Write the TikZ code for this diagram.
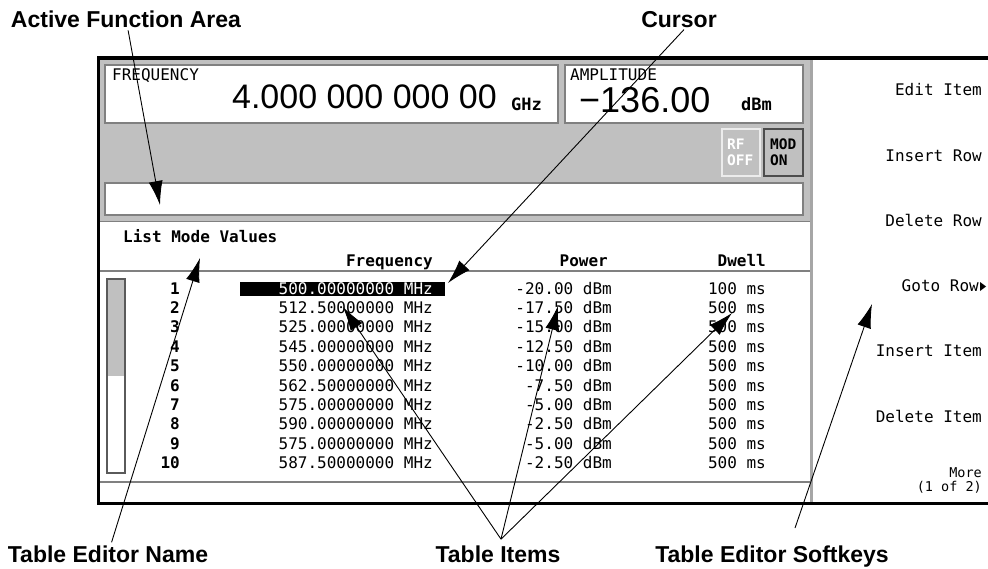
\documentclass[tikz,border=0pt]{standalone}
\usepackage{fontspec}
\setmainfont{Liberation Sans}
\newfontfamily\scrfont{DejaVu Sans Mono}
\usepackage{tikz}
\usetikzlibrary{arrows.meta}

\definecolor{panelgray}{HTML}{C0C0C0}
\definecolor{edgegray}{HTML}{808080}

\begin{document}
\begin{tikzpicture}[x=1pt,y=-1pt,
		callout/.style={font=\bfseries\fontsize{23}{25}\selectfont,inner sep=0pt},
		scr text/.style={font=\scrfont\fontsize{16}{18}\selectfont,inner sep=0pt},
		scr bold/.style={font=\scrfont\bfseries\fontsize{16}{18}\selectfont,inner sep=0pt},
		scr small/.style={font=\scrfont\bfseries\fontsize{14.5}{15}\selectfont,inner sep=0pt,anchor=base west},
		soft key/.style={scr text,anchor=base east},
		box/.style={draw=edgegray,line width=1.5pt,fill=white},
		pointer/.style={-{Latex[length=24pt,width=14pt]},line width=0.9pt,shorten <=3pt}]
	
	\useasboundingbox (0,0) rectangle (988,568);
	
	\fill[panelgray] (100,60) rectangle (810,221);
	\draw[edgegray,line width=1.5pt] (100,221.5) -- (810,221.5);
	\draw[box] (105,65) rectangle (558,123);
	\draw[box] (565,65) rectangle (803,123);
	\draw[box] (105,183) rectangle (803,215);
	\draw[white!85!gray,line width=1.5pt,fill=panelgray] (722,129) rectangle (760,176);
	\draw[edgegray!60!black,line width=1.5pt,fill=panelgray] (764,129) rectangle (803,176);
	
	\draw[gray!70,line width=3pt] (811,60) -- (811,502);
	\draw[edgegray,line width=1.5pt] (100,271) -- (810,271);
	\draw[edgegray,line width=1.5pt] (100,482) -- (810,482);
	\draw[line width=3.5pt] (988,58) -- (98.5,58) -- (98.5,503.5) -- (988,503.5);
	
	\node[scr text,anchor=base west] (freqlbl) at (112,80.5) {FREQUENCY};
	\node[font=\fontsize{34}{36}\selectfont,inner sep=0pt,text height=25pt,anchor=base east] (freqval) at (497,108) {4.000 000 000 00};
	\node[scr bold,font=\scrfont\bfseries\fontsize{17}{18}\selectfont,anchor=base west] (ghz) at (511,110) {GHz};
	\node[scr text,anchor=base west] (amplbl) at (570,80) {AMPLITUDE};
	\node[font=\fontsize{36}{40}\selectfont,inner sep=0pt,text height=25pt,anchor=base west] (ampval) at (579,112) {−136.00};
	\node[scr bold,font=\scrfont\bfseries\fontsize{17}{18}\selectfont,anchor=base west] (dbm) at (741,110) {dBm};
	\node[scr small,text=white] (rflbl) at (727,149) {RF};
	\node[scr small,text=white] (offlbl) at (727,165) {OFF};
	\node[scr small] (modlbl) at (770,149) {MOD};
	\node[scr small] (onlbl) at (770,165) {ON};
	
	\node[scr bold,anchor=base west] (listname) at (123,242) {List Mode Values};
	\node[scr bold,anchor=base east] (hfreq) at (433,266) {Frequency};
	\node[scr bold,anchor=base east] (hpow) at (608,266) {Power};
	\node[scr bold,anchor=base east] (hdwell) at (766,266) {Dwell};
	
	\draw[edgegray!70!black,line width=1.2pt] (107,279) rectangle (125,473);
	\fill[panelgray] (108,280) rectangle (124,376);
	\fill (240,282) rectangle (445,296);
	
	\foreach \n/\f/\p/\d/\c in {1/500.00000000/-20.00/100/white,
		2/512.50000000/-17.50/500/black, 3/525.00000000/-15.00/500/black,
		4/545.00000000/-12.50/500/black, 5/550.00000000/-10.00/500/black,
		6/562.50000000/-7.50/500/black, 7/575.00000000/-5.00/500/black,
		8/590.00000000/-2.50/500/black, 9/575.00000000/-5.00/500/black,
		10/587.50000000/-2.50/500/black}
	{
		\pgfmathsetmacro{\yy}{294+(\n-1)*19.4}
		\node[scr bold,anchor=base east] (num\n) at (180,\yy) {\n};
		\node[scr text,anchor=base east,text=\c] (freq\n) at (433,\yy) {\f\ MHz};
		\node[scr text,anchor=base east] (pow\n) at (612,\yy) {\p\ dBm};
		\node[scr text,anchor=base east] (dwell\n) at (766,\yy) {\d\ ms};
	}
	
	\foreach \t/\xx/\yy [count=\k] in {Edit Item/982/95, Insert Row/982/161.5,
		Delete Row/982/226, Goto Row/979/291, Insert Item/982/356.5,
		Delete Item/982/422.5}
	\node[soft key] (sk\k) at (\xx,\yy) {\t};
	\fill (sk4.base east) ++(1,-9) -- ++(6,4.5) -- ++(-6,4.5) -- cycle;
	\node[soft key,font=\scrfont\fontsize{13.5}{14}\selectfont,text height=9.5pt] (more) at (982,477) {More};
	\node[soft key,font=\scrfont\fontsize{13.5}{14}\selectfont,text depth=0pt] (pages) at (982,491) {(1 of 2)};
	
	\node[callout,anchor=base] (afalbl) at (126,27) {Active Function Area};
	\node[callout,anchor=base] (cursorlbl) at (679,27) {Cursor};
	\node[callout,anchor=base] (namelbl) at (108,562) {Table Editor Name};
	\node[callout,anchor=base] (itemslbl) at (498,562) {Table Items};
	\node[callout,anchor=base] (keyslbl) at (772,562) {Table Editor Softkeys};
	
	\coordinate (afa tip) at (160,205);
	\coordinate (cursor tip) at (448,283);
	\coordinate (name tip) at (200,258);
	\coordinate (items apex) at ([xshift=3pt,yshift=6pt]itemslbl.north);
	\coordinate (freq tip) at (343,307);
	\coordinate (pow tip) at (558,306);
	\coordinate (dwell tip) at (732,313);
	\coordinate (keys foot) at (795,528);
	\coordinate (keys tip) at (872,304);
	
	\path[pointer]
	(afalbl) edge (afa tip)
	([xshift=7pt]cursorlbl.south) edge (cursor tip)
	(namelbl) edge (name tip)
	(items apex) edge[shorten <=0pt] (freq tip)
	(items apex) edge[shorten <=0pt] (pow tip)
	(items apex) edge[shorten <=0pt] (dwell tip)
	(keys foot) edge[shorten <=0pt] (keys tip);
\end{tikzpicture}
\end{document}
